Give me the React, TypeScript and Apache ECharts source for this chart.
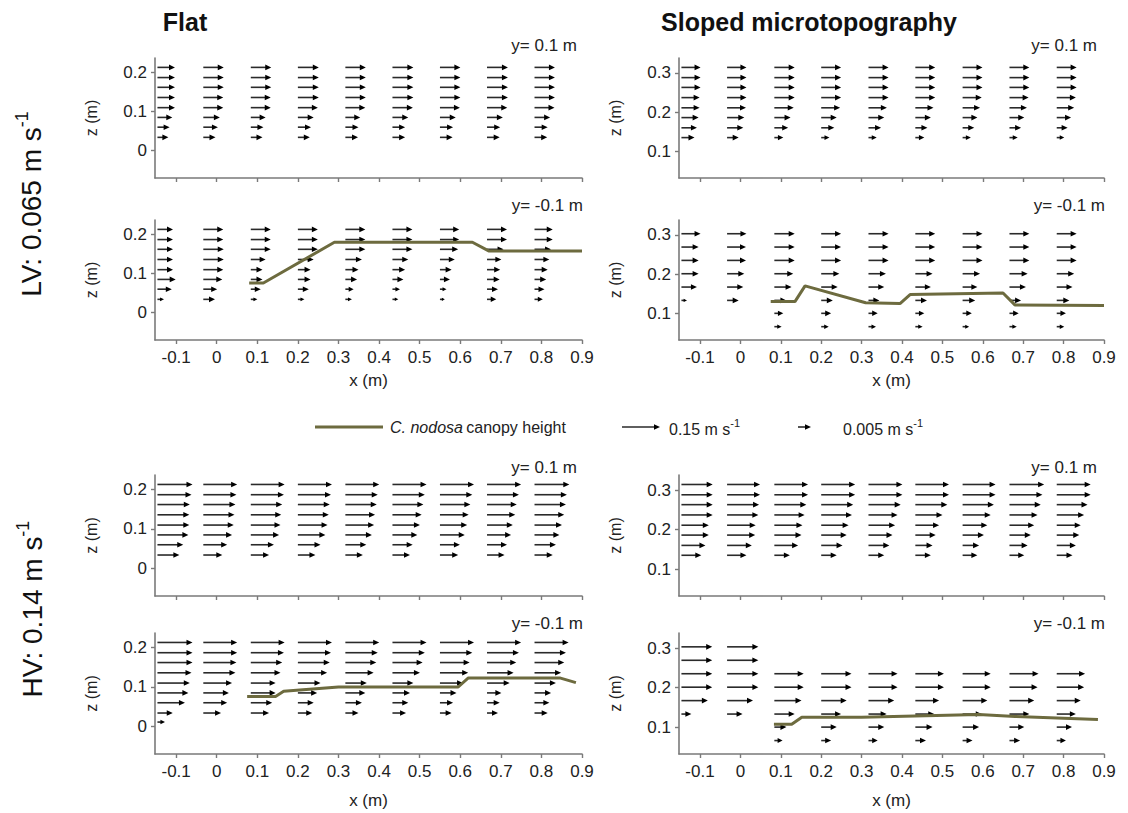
import React, { useEffect, useRef } from "react";
import * as echarts from "echarts";

// ---------- sampling grid ----------
// x positions of the velocity profiles (m)
const X_COLUMNS = [-0.146, -0.033, 0.084, 0.2, 0.317, 0.433, 0.55, 0.666, 0.783];
const X_TICKS = [-0.1, 0, 0.1, 0.2, 0.3, 0.4, 0.5, 0.6, 0.7, 0.8, 0.9];
const X_RANGE = [-0.152, 0.9];

// measurement heights (m), bottom to top
const FLAT_Z = [0.034, 0.06, 0.085, 0.11, 0.136, 0.162, 0.187, 0.213];
const FLAT_Z_HV_LOWER = [0.011, 0.034, 0.06, 0.085, 0.11, 0.136, 0.162, 0.187, 0.213];
const SLOPE_UPPER_Z = [0.135, 0.16, 0.186, 0.211, 0.237, 0.263, 0.288, 0.314];
const SLOPE_LOWER_Z = [0.066, 0.1, 0.133, 0.167, 0.201, 0.235, 0.269, 0.303];

const FLAT_Z_TICKS = [0, 0.1, 0.2];
const SLOPE_Z_TICKS = [0.1, 0.2, 0.3];
const FLAT_Z_RANGE = [-0.07, 0.237];
const SLOPE_Z_RANGE = [0.032, 0.338];

// ---------- streamwise velocity u (cm s-1), one column per profile, bottom to top ----------
const LV_FLAT_UPPER_U = [
  [4.5, 5.0, 6.1, 7.2, 7.2, 7.2, 7.2, 7.2],
  [5.0, 6.0, 6.8, 8.2, 8.2, 8.4, 8.4, 8.4],
  [4.8, 5.2, 6.1, 8.2, 8.2, 8.4, 8.4, 8.4],
  [4.9, 5.4, 6.5, 8.2, 8.6, 8.6, 8.6, 8.6],
  [5.2, 5.4, 6.1, 8.2, 8.4, 8.4, 8.4, 8.4],
  [5.2, 5.2, 6.5, 8.4, 8.6, 8.6, 8.6, 8.6],
  [5.2, 5.4, 6.5, 8.2, 8.4, 8.4, 8.4, 8.4],
  [5.2, 5.4, 6.5, 8.3, 8.6, 8.6, 8.6, 8.6],
  [5.2, 5.4, 6.4, 8.2, 8.4, 8.4, 8.4, 8.4],
];
const LV_FLAT_LOWER_U = [
  [2.7, 5.9, 7.5, 6.4, 6.4, 6.4, 6.4, 6.4],
  [4.8, 5.7, 7.8, 8.2, 8.4, 8.4, 8.2, 8.2],
  [2.7, 4.1, 4.8, 4.8, 6.1, 8.2, 8.2, 8.2],
  [2.7, 4.5, 5.2, 5.2, 6.5, 8.2, 8.2, 8.2],
  [2.7, 3.4, 4.8, 5.4, 6.8, 8.2, 8.2, 8.2],
  [2.4, 3.1, 4.5, 5.2, 6.5, 8.2, 8.2, 8.2],
  [2.0, 2.7, 4.1, 4.8, 6.1, 7.5, 7.9, 7.9],
  [3.8, 4.5, 5.2, 5.4, 5.9, 6.8, 8.2, 8.2],
  [3.4, 4.1, 4.8, 5.4, 6.1, 6.8, 7.5, 7.5],
];
const LV_SLOPE_UPPER_U = [
  [5.4, 6.4, 7.1, 7.5, 7.5, 7.9, 7.9, 7.9],
  [4.8, 6.7, 7.1, 7.8, 8.0, 8.0, 8.0, 8.0],
  [3.7, 5.7, 6.7, 8.0, 8.4, 8.4, 8.4, 8.4],
  [3.4, 5.4, 6.4, 7.8, 8.2, 8.2, 8.2, 8.2],
  [3.4, 5.2, 6.5, 7.6, 8.3, 8.3, 8.3, 8.3],
  [3.7, 5.0, 6.4, 7.5, 8.2, 8.2, 8.2, 8.2],
  [3.4, 4.8, 6.1, 7.2, 7.9, 8.2, 8.2, 8.2],
  [3.4, 4.8, 6.1, 7.2, 7.9, 8.2, 8.2, 8.2],
  [3.1, 4.5, 5.9, 7.2, 7.9, 8.2, 8.2, 8.2],
];
const LV_SLOPE_LOWER_U = [
  [null, null, 2.3, 6.4, 7.1, 7.1, 7.1, 7.9],
  [null, null, 4.8, 6.7, 7.1, 7.8, 7.8, 8.0],
  [3.0, 3.7, 5.0, 7.1, 7.8, 8.4, 8.4, 8.4],
  [3.1, 4.1, 4.8, 6.8, 7.5, 8.2, 8.2, 8.2],
  [3.1, 3.8, 4.5, 6.5, 7.2, 8.3, 8.3, 8.3],
  [3.0, 3.7, 4.8, 6.4, 7.1, 8.2, 8.2, 8.2],
  [2.7, 3.8, 5.2, 6.1, 7.2, 8.2, 8.2, 8.2],
  [3.0, 3.8, 4.8, 6.8, 7.5, 8.2, 8.2, 8.2],
  [3.1, 3.8, 5.2, 6.5, 7.2, 8.2, 8.2, 8.2],
];
const HV_FLAT_UPPER_U = [
  [9.0, 10.6, 12.7, 13.1, 13.1, 13.3, 14.0, 14.4],
  [7.8, 9.8, 11.8, 12.5, 12.8, 13.2, 13.6, 13.9],
  [7.5, 9.5, 11.6, 12.2, 12.5, 12.9, 13.6, 13.9],
  [7.2, 9.3, 11.3, 12.2, 12.7, 13.1, 13.6, 14.0],
  [7.2, 8.6, 10.9, 11.8, 12.2, 12.9, 13.3, 13.9],
  [7.2, 8.3, 10.2, 11.3, 12.0, 12.7, 13.3, 14.0],
  [7.5, 8.2, 10.2, 11.2, 11.8, 12.5, 13.3, 14.0],
  [7.2, 8.2, 9.9, 10.6, 11.6, 12.2, 13.1, 14.0],
  [7.5, 8.8, 10.2, 11.3, 12.2, 12.9, 13.3, 14.3],
];
const HV_FLAT_LOWER_U = [
  [3.1, 6.3, 11.3, 12.7, 13.3, 14.0, 14.4, 14.4, 14.4],
  [null, 7.3, 9.8, 10.5, 11.8, 13.2, 13.6, 13.9, 13.9],
  [null, 7.5, 8.8, 10.2, 10.2, 12.2, 12.9, 13.6, 13.9],
  [null, 5.9, 6.5, 7.9, 9.3, 12.0, 13.1, 13.6, 14.0],
  [null, 5.4, 6.8, 8.2, 8.8, 11.6, 12.7, 13.3, 13.9],
  [null, 5.6, 6.5, 7.2, 8.6, 11.3, 12.4, 13.3, 14.0],
  [null, 4.8, 5.4, 6.8, 9.5, 11.6, 12.2, 13.3, 14.0],
  [null, 4.5, 5.2, 5.9, 9.3, 10.9, 12.0, 13.1, 14.0],
  [null, 5.4, 6.1, 6.8, 8.8, 10.9, 12.2, 12.9, 14.0],
];
const HV_SLOPE_UPPER_U = [
  [8.2, 9.9, 11.3, 11.3, 12.9, 12.9, 12.9, 12.9],
  [8.0, 10.2, 11.6, 11.8, 12.9, 13.2, 13.6, 13.6],
  [6.4, 9.8, 11.2, 11.6, 12.5, 13.2, 13.9, 13.9],
  [6.4, 8.8, 10.5, 11.3, 12.7, 13.2, 14.0, 14.0],
  [6.5, 8.6, 9.9, 11.0, 12.0, 13.3, 14.0, 14.0],
  [6.4, 7.1, 8.4, 9.8, 11.2, 13.2, 13.9, 13.9],
  [6.1, 6.8, 8.8, 10.2, 11.6, 12.9, 13.6, 13.6],
  [6.1, 7.5, 8.8, 10.2, 11.6, 12.9, 13.6, 14.3],
  [6.5, 7.9, 9.3, 9.9, 11.3, 12.7, 14.0, 14.0],
];
const HV_SLOPE_LOWER_U = [
  [null, null, 4.1, 10.9, 12.7, 12.7, 12.7, 12.7],
  [null, null, 6.4, 10.7, 12.9, 12.9, 12.9, 12.9],
  [3.4, 5.0, 8.4, 11.2, 12.1, 12.1, null, null],
  [4.1, 6.4, 8.2, 10.5, 12.5, 12.5, null, null],
  [3.8, 6.5, 7.5, 10.6, 12.0, 12.0, null, null],
  [4.4, 7.1, 7.8, 9.8, 11.8, 11.8, null, null],
  [4.1, 6.8, 7.9, 10.2, 11.6, 11.6, null, null],
  [4.4, 6.1, 8.2, 10.2, 11.6, 12.0, null, null],
  [3.8, 6.3, 7.9, 9.9, 11.3, 11.7, null, null],
];

// ---------- Cymodocea nodosa canopy height (x, z in m) ----------
const LV_FLAT_CANOPY_X = [0.08, 0.115, 0.29, 0.63, 0.67, 0.9];
const LV_FLAT_CANOPY_Z = [0.076, 0.076, 0.18, 0.18, 0.158, 0.158];
const LV_SLOPE_CANOPY_X = [0.075, 0.135, 0.16, 0.31, 0.395, 0.42, 0.65, 0.68, 0.9];
const LV_SLOPE_CANOPY_Z = [0.13, 0.13, 0.17, 0.127, 0.125, 0.148, 0.152, 0.121, 0.12];
const HV_FLAT_CANOPY_X = [0.075, 0.145, 0.165, 0.3, 0.595, 0.62, 0.845, 0.885];
const HV_FLAT_CANOPY_Z = [0.076, 0.076, 0.089, 0.1, 0.1, 0.123, 0.123, 0.111];
const HV_SLOPE_CANOPY_X = [0.083, 0.127, 0.152, 0.3, 0.59, 0.68, 0.885];
const HV_SLOPE_CANOPY_Z = [0.107, 0.107, 0.125, 0.125, 0.132, 0.127, 0.119];

// arrow length along x (m) per cm s-1 of velocity
const QUIVER_SCALE = 0.006;

const FONT = "'Liberation Sans', Arial, sans-serif";
const CANOPY_COLOR = "#6d6b3f";
const AXIS_COLOR = "#7a7a7a";
const SHAFT_COLOR = "#2a2a2a";
const TICK_FONT = 17;

type Panel = {
  left: number;
  top: number;
  width: number;
  height: number;
  z: number[];
  u: (number | null)[][];
  zRange: number[];
  zTicks: number[];
  tag: string;
  tagRight: number;
  tagY: number;
  xLabels: boolean;
  xNameGap: number;
  canopyX?: number[];
  canopyZ?: number[];
};

const FLAT_LEFT = 155;
const FLAT_W = 427;
const SLOPE_LEFT = 679;
const SLOPE_W = 425;

const PANELS: Panel[] = [
  { left: FLAT_LEFT, width: FLAT_W, top: 58, height: 120, z: FLAT_Z, u: LV_FLAT_UPPER_U, zRange: FLAT_Z_RANGE, zTicks: FLAT_Z_TICKS, tag: "y= 0.1 m", tagRight: 577, tagY: 45, xLabels: false, xNameGap: 0 },
  { left: FLAT_LEFT, width: FLAT_W, top: 220, height: 120, z: FLAT_Z, u: LV_FLAT_LOWER_U, zRange: FLAT_Z_RANGE, zTicks: FLAT_Z_TICKS, tag: "y= -0.1 m", tagRight: 583, tagY: 205, xLabels: true, xNameGap: 32, canopyX: LV_FLAT_CANOPY_X, canopyZ: LV_FLAT_CANOPY_Z },
  { left: SLOPE_LEFT, width: SLOPE_W, top: 58, height: 120, z: SLOPE_UPPER_Z, u: LV_SLOPE_UPPER_U, zRange: SLOPE_Z_RANGE, zTicks: SLOPE_Z_TICKS, tag: "y= 0.1 m", tagRight: 1097, tagY: 45, xLabels: false, xNameGap: 0 },
  { left: SLOPE_LEFT, width: SLOPE_W, top: 220, height: 120, z: SLOPE_LOWER_Z, u: LV_SLOPE_LOWER_U, zRange: SLOPE_Z_RANGE, zTicks: SLOPE_Z_TICKS, tag: "y= -0.1 m", tagRight: 1105, tagY: 205, xLabels: true, xNameGap: 32, canopyX: LV_SLOPE_CANOPY_X, canopyZ: LV_SLOPE_CANOPY_Z },
  { left: FLAT_LEFT, width: FLAT_W, top: 475, height: 121, z: FLAT_Z, u: HV_FLAT_UPPER_U, zRange: FLAT_Z_RANGE, zTicks: FLAT_Z_TICKS, tag: "y= 0.1 m", tagRight: 577, tagY: 467, xLabels: false, xNameGap: 0 },
  { left: FLAT_LEFT, width: FLAT_W, top: 633, height: 121, z: FLAT_Z_HV_LOWER, u: HV_FLAT_LOWER_U, zRange: FLAT_Z_RANGE, zTicks: FLAT_Z_TICKS, tag: "y= -0.1 m", tagRight: 583, tagY: 623, xLabels: true, xNameGap: 38, canopyX: HV_FLAT_CANOPY_X, canopyZ: HV_FLAT_CANOPY_Z },
  { left: SLOPE_LEFT, width: SLOPE_W, top: 475, height: 121, z: SLOPE_UPPER_Z, u: HV_SLOPE_UPPER_U, zRange: SLOPE_Z_RANGE, zTicks: SLOPE_Z_TICKS, tag: "y= 0.1 m", tagRight: 1097, tagY: 467, xLabels: false, xNameGap: 0 },
  { left: SLOPE_LEFT, width: SLOPE_W, top: 633, height: 121, z: SLOPE_LOWER_Z, u: HV_SLOPE_LOWER_U, zRange: SLOPE_Z_RANGE, zTicks: SLOPE_Z_TICKS, tag: "y= -0.1 m", tagRight: 1105, tagY: 623, xLabels: true, xNameGap: 38, canopyX: HV_SLOPE_CANOPY_X, canopyZ: HV_SLOPE_CANOPY_Z },
];

const fmtTick = (v: number) => {
  const r = Math.round(v * 10) / 10;
  return r === 0 ? "0" : String(r);
};

// arrow drawn in pixel space: shaft + filled head
function arrowShapes(x0: number, x1: number, y: number) {
  const len = x1 - x0;
  const head = Math.min(6, len * 0.6);
  const hw = Math.min(2.8, Math.max(1.6, len * 0.3));
  return [
    {
      type: "line",
      shape: { x1: x0, y1: y, x2: x1 - head * 0.7, y2: y },
      style: { stroke: SHAFT_COLOR, lineWidth: 1.6 },
    },
    {
      type: "polygon",
      shape: { points: [[x1, y], [x1 - head, y - hw], [x1 - head, y + hw]] },
      style: { fill: "#000" },
    },
  ];
}

function renderArrow(params: any, api: any) {
  const x = api.value(0);
  const z = api.value(1);
  const u = api.value(2);
  const p0 = api.coord([x, z]);
  const p1 = api.coord([x + u * QUIVER_SCALE, z]);
  return { type: "group", children: arrowShapes(p0[0], p1[0], p0[1]) };
}

function buildOption() {
  const grid: any[] = [];
  const xAxis: any[] = [];
  const yAxis: any[] = [];
  const series: any[] = [];
  const graphic: any[] = [];

  PANELS.forEach((p, i) => {
    grid.push({ left: p.left, top: p.top, width: p.width, height: p.height });
    xAxis.push({
      type: "value",
      gridIndex: i,
      min: X_RANGE[0],
      max: X_RANGE[1],
      name: p.xLabels ? "x (m)" : "",
      nameLocation: "middle",
      nameGap: p.xNameGap,
      nameTextStyle: { fontFamily: FONT, fontSize: 17, color: "#222" },
      axisLine: { show: true, onZero: false, lineStyle: { color: AXIS_COLOR, width: 1.6 } },
      axisTick: { show: true, length: 4, customValues: X_TICKS, lineStyle: { color: AXIS_COLOR, width: 1.4 } },
      axisLabel: {
        show: p.xLabels,
        customValues: X_TICKS,
        formatter: fmtTick,
        fontFamily: FONT,
        fontSize: TICK_FONT,
        color: "#222",
        margin: 9,
      },
      splitLine: { show: false },
    });
    yAxis.push({
      type: "value",
      gridIndex: i,
      min: p.zRange[0],
      max: p.zRange[1],
      name: "z (m)",
      nameLocation: "middle",
      nameGap: 56,
      nameTextStyle: { fontFamily: FONT, fontSize: 16, color: "#222" },
      axisLine: { show: true, onZero: false, lineStyle: { color: AXIS_COLOR, width: 1.6 } },
      axisTick: { show: true, length: 4, customValues: p.zTicks, lineStyle: { color: AXIS_COLOR, width: 1.4 } },
      axisLabel: {
        customValues: p.zTicks,
        formatter: fmtTick,
        fontFamily: FONT,
        fontSize: TICK_FONT,
        color: "#222",
        margin: 8,
      },
      splitLine: { show: false },
    });

    const data: number[][] = [];
    p.u.forEach((col, c) => {
      col.forEach((u, r) => {
        if (u !== null && u !== undefined) data.push([X_COLUMNS[c], p.z[r], u]);
      });
    });
    series.push({
      type: "custom",
      xAxisIndex: i,
      yAxisIndex: i,
      coordinateSystem: "cartesian2d",
      renderItem: renderArrow,
      encode: { x: 0, y: 1 },
      data,
      clip: false,
      silent: true,
    });
    if (p.canopyX && p.canopyZ) {
      series.push({
        type: "line",
        xAxisIndex: i,
        yAxisIndex: i,
        data: p.canopyX.map((x, k) => [x, p.canopyZ![k]]),
        showSymbol: false,
        symbol: "none",
        lineStyle: { color: CANOPY_COLOR, width: 3 },
        z: 5,
        silent: true,
      });
    }
    graphic.push({
      type: "text",
      x: p.tagRight,
      y: p.tagY,
      style: { text: p.tag, fontFamily: FONT, fontSize: 17, fill: "#222", align: "right", verticalAlign: "middle" },
    });
  });

  // column titles
  graphic.push({
    type: "text",
    x: 185,
    y: 22,
    style: { text: "Flat", fontFamily: FONT, fontSize: 25, fontWeight: "bold", fill: "#111", align: "center", verticalAlign: "middle" },
  });
  graphic.push({
    type: "text",
    x: 809,
    y: 22,
    style: { text: "Sloped microtopography", fontFamily: FONT, fontSize: 25, fontWeight: "bold", fill: "#111", align: "center", verticalAlign: "middle" },
  });

  // row labels (rotated)
  const rowLabel = (text: string, x: number, y: number) => ({
    type: "text",
    x,
    y,
    rotation: Math.PI / 2,
    style: {
      text: `{b|${text}}{s|-1}`,
      align: "center",
      verticalAlign: "middle",
      fill: "#111",
      rich: {
        b: { fontFamily: FONT, fontSize: 28, fill: "#111", lineHeight: 32, verticalAlign: "bottom" },
        s: { fontFamily: FONT, fontSize: 18, fill: "#111", lineHeight: 32, verticalAlign: "top" },
      },
    },
  });
  graphic.push(rowLabel("LV: 0.065 m s", 29, 204));
  graphic.push(rowLabel("HV: 0.14 m s", 30, 609));

  // legend
  const LY = 427;
  graphic.push({
    type: "line",
    shape: { x1: 315, y1: LY, x2: 383, y2: LY },
    style: { stroke: CANOPY_COLOR, lineWidth: 3 },
  });
  graphic.push({
    type: "text",
    x: 390,
    y: LY,
    style: {
      text: "{i|C. nodosa} {n|canopy height}",
      verticalAlign: "middle",
      rich: {
        i: { fontFamily: FONT, fontSize: 16, fontStyle: "italic", fill: "#222" },
        n: { fontFamily: FONT, fontSize: 16, fill: "#222" },
      },
    },
  });
  graphic.push({ type: "group", children: arrowShapes(622, 660, LY) });
  graphic.push({
    type: "text",
    x: 669,
    y: LY,
    style: {
      text: "{n|0.15 m s}{s|-1}",
      verticalAlign: "middle",
      rich: {
        n: { fontFamily: FONT, fontSize: 16, fill: "#222", lineHeight: 20, verticalAlign: "bottom" },
        s: { fontFamily: FONT, fontSize: 11, fill: "#222", lineHeight: 20, verticalAlign: "top" },
      },
    },
  });
  graphic.push({ type: "group", children: arrowShapes(798, 811, LY) });
  graphic.push({
    type: "text",
    x: 843,
    y: LY,
    style: {
      text: "{n|0.005 m s}{s|-1}",
      verticalAlign: "middle",
      rich: {
        n: { fontFamily: FONT, fontSize: 16, fill: "#222", lineHeight: 20, verticalAlign: "bottom" },
        s: { fontFamily: FONT, fontSize: 11, fill: "#222", lineHeight: 20, verticalAlign: "top" },
      },
    },
  });

  return {
    animation: false,
    backgroundColor: "#ffffff",
    textStyle: { fontFamily: FONT },
    grid,
    xAxis,
    yAxis,
    series,
    graphic,
  };
}

export default function App() {
  const ref = useRef<HTMLDivElement>(null);
  useEffect(() => {
    if (!ref.current) return;
    const chart = echarts.init(ref.current, undefined, { renderer: "svg" });
    chart.setOption(buildOption() as any);
    return () => chart.dispose();
  }, []);
  return (
    <div
      ref={ref}
      style={{ position: "absolute", left: 0, top: 0, width: 1128, height: 813, background: "#fff" }}
    />
  );
}
